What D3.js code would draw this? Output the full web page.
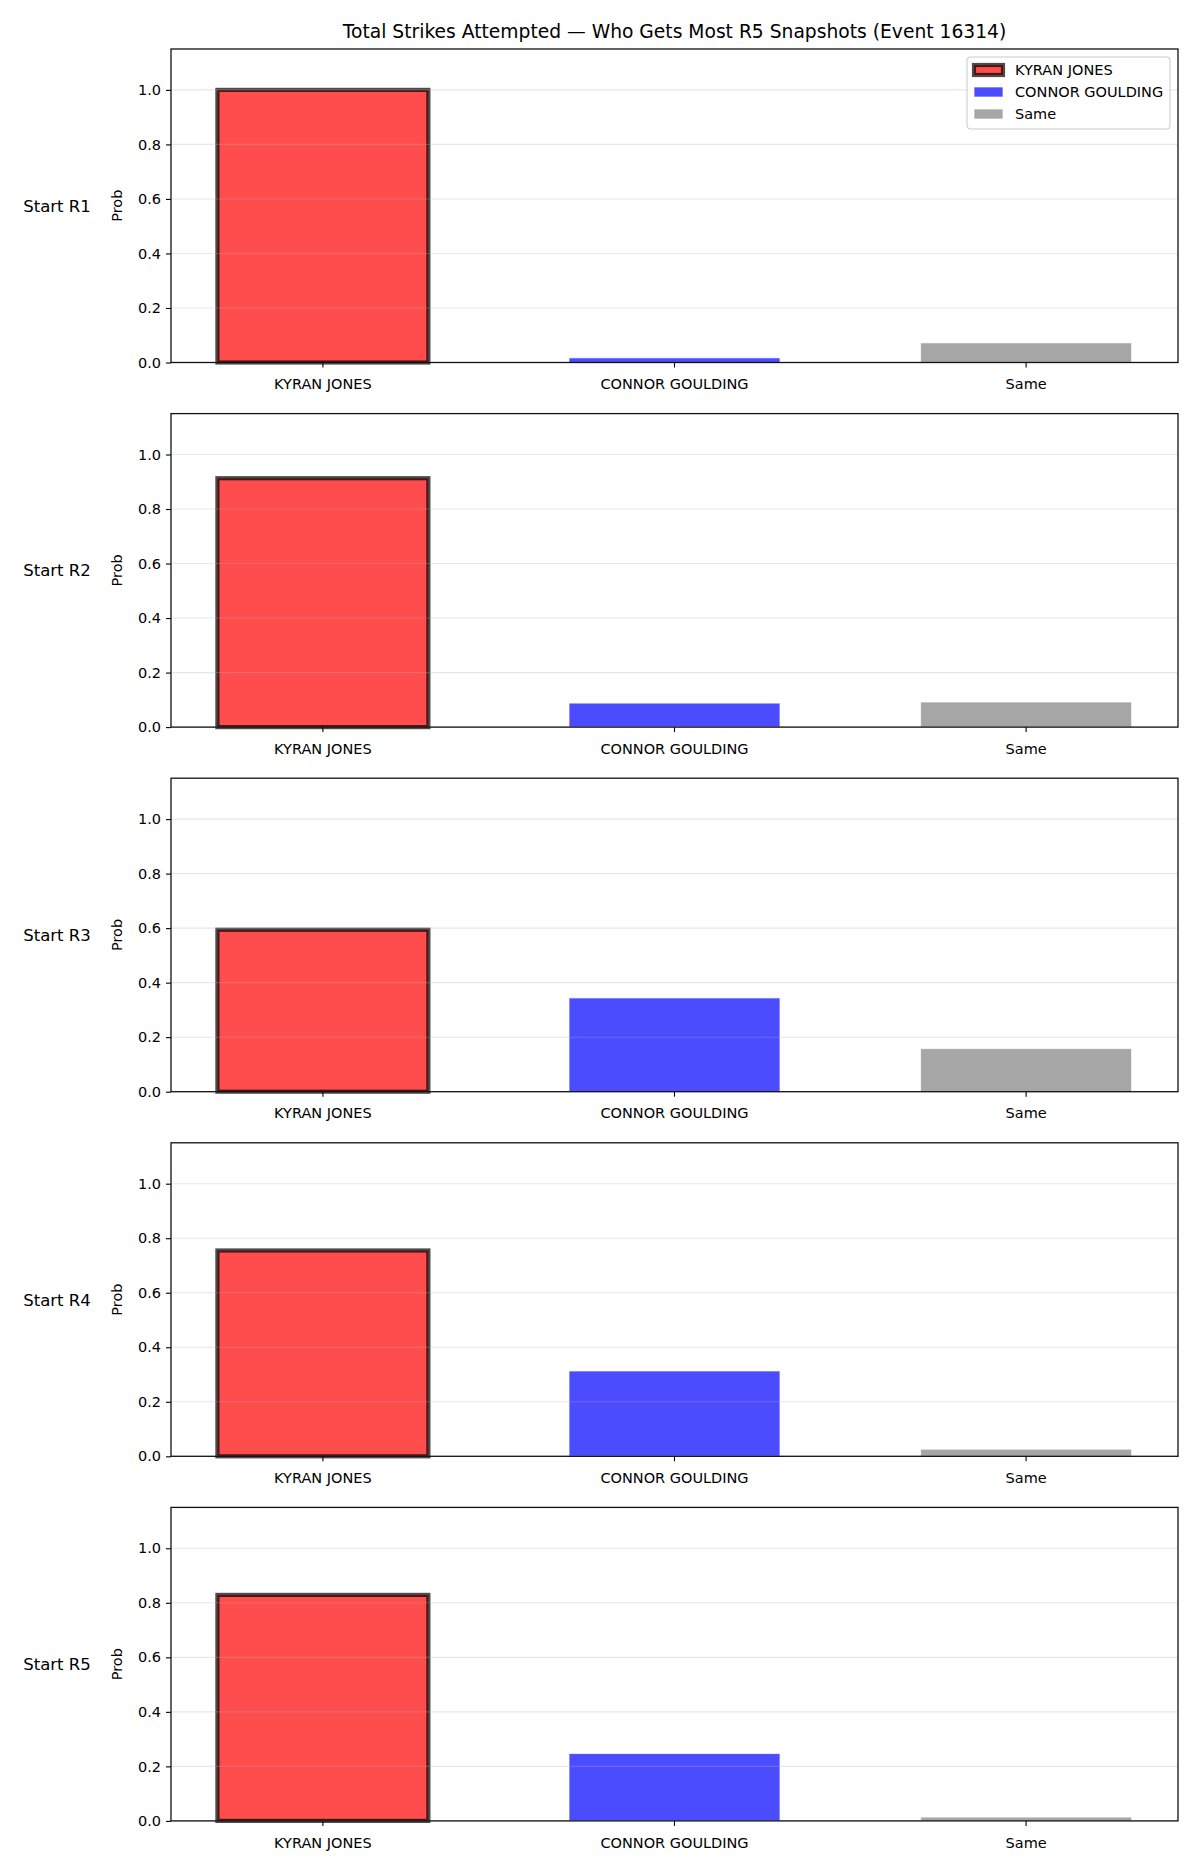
<!DOCTYPE html>
<html>
<head>
<meta charset="utf-8">
<script src="https://cdn.jsdelivr.net/npm/d3@7"></script>
<style>
  body { margin: 0; background: #fff; }
  svg { display: block; font-family: "DejaVu Sans", sans-serif; }
</style>
</head>
<body>
<svg id="chart"></svg>
<script>
let width = 1200, height = 1875;

// data
let categories = ["KYRAN JONES", "CONNOR GOULDING", "Same"];
let rounds = ["Start R1", "Start R2", "Start R3", "Start R4", "Start R5"];
let kyranProb  = [1.0, 0.913, 0.594, 0.755, 0.829];
let connorProb = [0.017, 0.088, 0.344, 0.313, 0.247];
let sameProb   = [0.072, 0.092, 0.158, 0.026, 0.014];
let yTicks = [0, 0.2, 0.4, 0.6, 0.8, 1.0];
let colors = ["red", "blue", "gray"];

let margin = {left: 171, right: 22, top: 49};
let panelHeight = 313.5;
let panelStep = 364.6;

let svg = d3.select("#chart")
    .attr("width", width)
    .attr("height", height)
    .attr("viewBox", [0, 0, width, height]);

svg.append("rect").attr("width", width).attr("height", height).attr("fill", "#fff");

let x = d3.scaleBand()
    .domain(categories)
    .range([margin.left, width - margin.right])
    .paddingInner(0.4)
    .paddingOuter(0.132);

let y = d3.scaleLinear().domain([0, 1.15]).range([panelHeight, 0]);

// title
svg.append("text")
    .attr("x", (margin.left + width - margin.right) / 2)
    .attr("y", 38)
    .attr("text-anchor", "middle")
    .style("font-size", "18.7px")
    .text("Total Strikes Attempted \u2014 Who Gets Most R5 Snapshots (Event 16314)");

rounds.forEach(function(r, i) {
    let values = [kyranProb[i], connorProb[i], sameProb[i]];
    let g = svg.append("g")
        .attr("transform", `translate(0,${margin.top + i * panelStep})`);

    // bars
    g.selectAll(".bar")
        .data(categories)
        .enter().append("rect")
        .attr("class", "bar")
        .attr("x", d => x(d))
        .attr("width", x.bandwidth())
        .attr("y", (d, j) => y(values[j]))
        .attr("height", (d, j) => y(0) - y(values[j]))
        .attr("fill", (d, j) => colors[j])
        .attr("fill-opacity", 0.7)
        .attr("stroke", (d, j) => j == 0 ? "black" : "white")
        .attr("stroke-opacity", 0.7)
        .attr("stroke-width", (d, j) => j == 0 ? 4.2 : 1);

    // grid (drawn above the bars like matplotlib)
    g.append("g")
        .selectAll("line")
        .data(yTicks)
        .enter().append("line")
        .attr("x1", margin.left)
        .attr("x2", width - margin.right)
        .attr("y1", d => y(d))
        .attr("y2", d => y(d))
        .attr("stroke", "#b0b0b0")
        .attr("stroke-opacity", 0.3)
        .attr("stroke-width", 1.1);

    let yAxis = g.append("g")
        .attr("transform", `translate(${margin.left},0)`)
        .call(d3.axisLeft(y).tickValues(yTicks).tickFormat(d3.format(".1f")).tickSize(5).tickPadding(5));
    let xAxis = g.append("g")
        .attr("transform", `translate(0,${panelHeight})`)
        .call(d3.axisBottom(x).tickSize(5).tickPadding(11.5));

    [xAxis, yAxis].forEach(function(a) {
        a.select(".domain").remove();
        a.selectAll("line").attr("stroke", "#000").attr("stroke-width", 1.1);
        a.selectAll("text")
            .attr("fill", "#000")
            .style("font-size", "14.5px")
            .style("font-family", "DejaVu Sans, sans-serif");
    });

    // spines
    g.append("rect")
        .attr("x", margin.left)
        .attr("y", 0)
        .attr("width", width - margin.right - margin.left)
        .attr("height", panelHeight)
        .attr("fill", "none")
        .attr("stroke", "#111")
        .attr("stroke-width", 1.3);

    // y label
    g.append("text")
        .attr("transform", `translate(122,${panelHeight / 2}) rotate(-90)`)
        .attr("text-anchor", "middle")
        .style("font-size", "14.5px")
        .text("Prob");

    // row label
    g.append("text")
        .attr("x", 57)
        .attr("y", panelHeight / 2 + 6)
        .attr("text-anchor", "middle")
        .style("font-size", "16.5px")
        .text(r);

    if (i == 0) {
        let legend = g.append("g").attr("transform", "translate(967,8)");
        legend.append("rect")
            .attr("width", 203)
            .attr("height", 72)
            .attr("rx", 3.5)
            .attr("fill", "#fff")
            .attr("fill-opacity", 0.8)
            .attr("stroke", "#cccccc")
            .attr("stroke-width", 1.1);
        categories.forEach(function(c, j) {
            let cy = 13 + j * 22;
            legend.append("rect")
                .attr("x", 7)
                .attr("y", cy - 5)
                .attr("width", 29)
                .attr("height", 10)
                .attr("fill", colors[j])
                .attr("fill-opacity", 0.7)
                .attr("stroke", j == 0 ? "black" : "white")
                .attr("stroke-opacity", 0.7)
                .attr("stroke-width", j == 0 ? 4.2 : 1);
            legend.append("text")
                .attr("x", 48)
                .attr("y", cy + 5)
                .style("font-size", "14.5px")
                .text(c);
        });
    }
});
</script>
</body>
</html>
